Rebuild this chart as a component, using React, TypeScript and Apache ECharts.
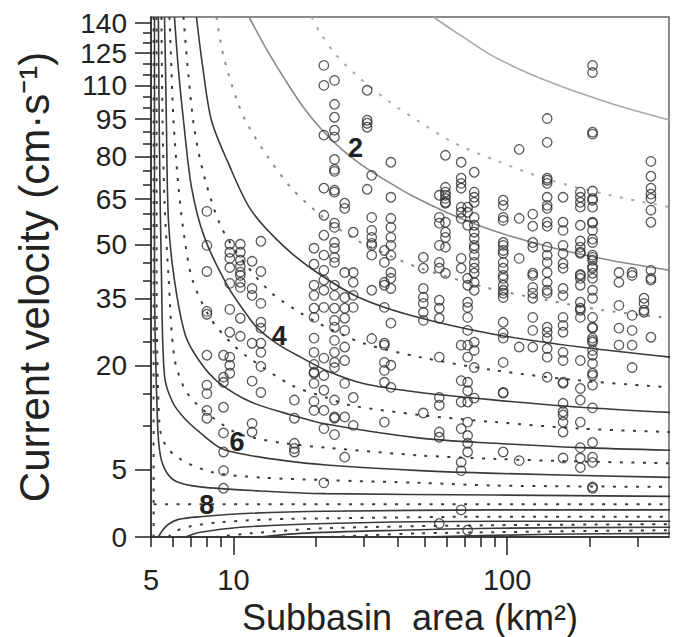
import React, { useEffect, useRef } from "react";
import * as echarts from "echarts";

// ---------------- Observations: subbasin area (km²) and current velocities (cm/s) ----------------
const subbasinAreas = [8.0, 9.2, 9.7, 10.6, 11.7, 12.6, 16.7, 19.7, 21.4, 23.4, 25.5, 27.4, 30.8, 32.0, 35.6, 37.6, 49.4, 56.5, 59.5, 67.9, 71.7, 75.8, 96.7, 110.6, 124, 140, 160, 185, 205, 256, 286, 316, 335];
const velocityByArea = [
  [60.9, 49.7, 42.5, 31.8, 31.1, 22.1, 16.5, 15.0, 12.4, 11.2],
  [22.1, 17.9, 17.0, 12.9, 9.2, 7.0, 4.9, 3.6],
  [50.0, 47.8, 46.1, 43.6, 39.2, 32.3, 27.0, 21.7, 20.0, 18.6],
  [50.0, 47.8, 45.6, 43.9, 42.3, 41.4, 39.5, 38.1, 30.1, 26.1],
  [45.3, 37.8, 35.9, 24.6, 17.2, 10.4, 9.3],
  [51.0, 42.5, 33.8, 29.2, 27.9, 24.6, 22.7, 19.8, 15.2],
  [14.0, 11.2, 8.0, 7.4, 7.0],
  [48.9, 44.5, 38.7, 35.9, 32.6, 30.3, 25.7, 22.7, 20.2, 18.8, 18.6, 16.8, 13.8, 12.4],
  [119.3, 110.1, 88.5, 68.8, 59.6, 53.0, 47.0, 42.8, 40.1, 37.3, 32.8, 21.5, 18.2, 15.6, 12.4, 9.7, 4.0],
  [112.4, 101.6, 95.8, 90.5, 87.7, 78.9, 75.4, 74.7, 68.1, 67.4, 57.0, 55.6, 50.6, 48.9, 46.4, 45.0, 38.7, 35.9, 32.6, 29.6, 28.1, 25.2, 22.7, 20.6, 19.6, 14.0, 11.4, 11.2, 9.0],
  [63.6, 61.9, 42.2, 35.3, 32.6, 30.1, 27.4, 23.8, 21.0, 16.8, 11.4, 6.4],
  [54.0, 42.2, 39.5, 35.9, 32.8, 14.4, 10.1],
  [107.9, 94.5, 93.3, 91.7, 68.4],
  [73.3, 58.9, 54.6, 52.3, 50.3, 49.7, 47.0, 37.3, 25.6],
  [48.3, 45.0, 39.5, 38.7, 32.8, 24.6, 24.2, 20.6, 19.1, 17.0, 10.6],
  [77.9, 65.6, 58.6, 55.6, 52.3, 49.7, 47.0, 42.2, 40.6, 37.8, 29.0, 20.0, 16.1],
  [46.4, 43.4, 37.8, 35.4, 33.8, 31.6, 29.6, 12.0],
  [66.3, 58.9, 57.0, 49.7, 45.0, 43.4, 34.6, 32.6, 30.1, 21.7, 14.4, 13.2, 9.3, 8.7, 1.0],
  [80.4, 69.1, 67.4, 66.3, 65.2, 63.9, 63.6, 57.3, 54.0, 52.3, 49.2, 42.0],
  [77.9, 72.3, 70.5, 68.8, 62.3, 60.6, 58.6, 46.1, 43.4, 24.2, 17.3, 13.7, 9.7, 5.8, 4.9, 2.0],
  [62.3, 60.6, 56.3, 40.6, 38.7, 34.1, 32.8, 30.3, 27.4, 24.2, 21.7, 17.0, 15.5, 13.7, 10.6, 8.9, 8.0, 7.0, 0.5],
  [74.4, 67.4, 65.6, 63.9, 58.9, 56.3, 54.0, 52.0, 49.7, 48.9, 47.0, 45.0, 43.4, 42.0, 39.5, 37.3, 24.8, 23.1, 19.6, 14.3],
  [64.6, 62.9, 58.9, 57.9, 50.6, 49.7, 48.3, 47.5, 45.0, 43.4, 41.4, 40.6, 38.7, 37.3, 36.5, 35.3, 29.2, 26.8, 25.7, 20.6, 15.2, 15.1, 7.0],
  [82.8, 58.6, 46.1, 23.8, 6.0],
  [60.0, 56.0, 50.6, 49.2, 42.0, 41.4, 38.1, 36.5, 35.1, 30.3, 27.4, 23.8],
  [95.2, 85.6, 72.3, 71.6, 70.5, 65.6, 62.9, 61.9, 57.3, 56.0, 49.2, 47.0, 45.0, 42.2, 39.5, 37.3, 36.5, 28.1, 27.0, 25.7, 23.5, 21.7, 17.9],
  [65.6, 57.3, 54.6, 49.7, 47.5, 44.7, 43.4, 37.8, 35.9, 30.3, 28.5, 27.0, 22.7, 21.0, 17.0, 16.8, 13.5, 12.2, 11.7, 10.6, 9.3, 6.3],
  [67.4, 65.6, 63.9, 62.3, 56.3, 51.1, 49.2, 47.8, 47.5, 41.7, 41.4, 40.6, 38.7, 34.1, 32.6, 32.1, 30.3, 21.0, 15.9, 14.0, 10.6, 7.5, 6.3, 5.2],
  [119.3, 116.0, 89.7, 88.9, 67.8, 65.2, 64.6, 62.3, 57.3, 57.0, 54.6, 51.7, 50.6, 47.0, 46.4, 45.6, 43.9, 43.4, 42.0, 40.6, 37.3, 35.1, 30.3, 28.1, 27.9, 25.7, 25.2, 24.8, 23.1, 22.1, 20.4, 18.6, 18.2, 16.5, 12.8, 8.1, 6.4, 5.8, 3.7, 3.6],
  [42.2, 39.5, 33.3, 27.9, 24.2],
  [42.2, 41.4, 30.8, 27.4, 24.2, 19.6],
  [35.1, 33.8, 32.1, 31.6],
  [78.2, 73.0, 68.8, 66.7, 65.2, 61.3, 57.3, 42.8, 40.6, 40.1, 25.9],
];

// ---------------- Contour lines as [area, velocity] ----------------
const contour1 = [[53.7, 143], [67.4, 133.9], [90.4, 123], [144, 111.5], [238, 102.1], [394, 94.5]];
const contour15 = [[19.3, 143], [20.8, 134.9], [23.6, 124.4], [27.4, 116.1], [36.5, 103.4], [48.1, 93.7], [63.5, 85.6], [90.4, 78.6], [144, 71.6], [238, 66.3], [394, 62.3]];
const contour2 = [[11.4, 143], [13.4, 125.4], [15.5, 112.4], [18.0, 100.3], [20.8, 91.3], [24.2, 84.0], [27.9, 78.6], [31.9, 74.7], [36.5, 71.2], [44.6, 66.3], [63.5, 59.6], [90.4, 54.3], [144, 49.2], [238, 45.6], [394, 42.8]];
const contour25 = [[8.67, 143], [9.19, 123.9], [10.3, 103.4], [11.3, 92.5], [13.4, 79.6], [16.3, 68.8], [20.4, 60.3], [27.0, 52.3], [35.6, 47.5], [48.1, 43.4], [86.7, 37.8], [140, 34.6], [224, 32.1], [394, 30.1]];
const contour3 = [[7.33, 143], [7.71, 119.3], [8.31, 94.5], [9.59, 77.5], [11.6, 61.3], [15.4, 49.2], [20.4, 42.0], [28.6, 35.4], [44.6, 30.8], [90.4, 26.5], [185, 23.8], [394, 21.7]];
const contour35 = [[6.57, 143], [6.85, 114.7], [7.21, 90.5], [7.84, 72.6], [9.04, 55.6], [11.0, 44.8], [13.8, 36.5], [17.7, 31.3], [20.4, 29.0], [29.8, 24.6], [48.1, 21.7], [90.4, 19.1], [185, 17.3], [394, 16.1]];
const contour4 = [[6.09, 143], [6.30, 117.0], [6.57, 94.5], [7.03, 69.1], [7.84, 52.3], [9.59, 38.1], [11.6, 29.6], [12.7, 27.0], [14.7, 24.2], [17.6, 21.7], [21.8, 19.1], [29.8, 16.8], [48.1, 15.2], [90.4, 14.0], [185, 12.9], [394, 12.1]];
const contour45 = [[5.84, 143], [5.94, 117.0], [6.04, 94.5], [6.30, 69.1], [6.62, 52.3], [7.09, 40.1], [8.24, 30.1], [9.75, 24.8], [11.3, 21.7], [16.3, 16.5], [21.8, 14.4], [26.7, 13.2], [48.1, 11.7], [90.4, 10.6], [185, 9.7], [394, 9.3]];
const contour5 = [[5.60, 143], [5.65, 117.0], [5.69, 94.5], [5.79, 57.9], [6.09, 40.1], [6.68, 26.3], [7.58, 20.6], [8.82, 17.0], [11.6, 13.7], [16.3, 11.7], [21.8, 10.3], [48.1, 8.6], [90.4, 8.0], [185, 7.5], [394, 7.2]];
const contour55 = [[5.46, 143], [5.51, 94.5], [5.60, 64.6], [5.79, 41.4], [6.09, 21.5], [6.68, 15.6], [7.64, 12.7], [10.1, 9.3], [12.0, 8.6], [15.4, 8.0], [21.8, 7.5], [48.1, 6.6], [90.4, 6.2], [185, 5.9], [394, 5.7]];
const contour6 = [[5.32, 143], [5.37, 82.4], [5.46, 41.4], [5.60, 18.2], [5.99, 13.7], [6.62, 11.2], [7.58, 9.2], [9.04, 7.4], [11.5, 6.6], [15.4, 6.0], [21.8, 5.5], [48.1, 4.9], [90.4, 4.7], [394, 4.4]];
const contour65 = [[5.24, 143], [5.24, 41.4], [5.37, 10.1], [5.65, 7.8], [6.30, 6.3], [8.31, 4.8], [12.5, 4.4], [21.8, 4.2], [48.1, 4.0], [90.4, 3.8], [394, 3.7]];
const contour7 = [[5.15, 143], [5.15, 41.4], [5.28, 10.7], [5.41, 6.6], [5.69, 4.8], [6.19, 4.1], [7.58, 3.7], [12.5, 3.4], [21.8, 3.2], [90.4, 3.1], [394, 3.0]];
const contour75v = [[5.11, 143], [5.11, 0]];
const contour75h = [[5.11, 2.42], [394, 2.42]];
const contour8 = [[5.32, 0], [5.51, 0.5], [5.79, 0.94], [6.30, 1.3], [7.58, 1.5], [11.5, 1.75], [21.8, 1.9], [90.4, 2.0], [394, 2.0]];
const contour85 = [[5.79, 0], [6.14, 0.42], [6.97, 0.79], [8.82, 1.08], [13.6, 1.3], [21.8, 1.38], [90.4, 1.5], [394, 1.5]];
const contour9 = [[6.68, 0], [7.58, 0.35], [10.6, 0.72], [21.8, 1.0], [90.4, 1.16], [394, 1.16]];
const contour95 = [[8.60, 0], [11.5, 0.27], [21.8, 0.65], [90.4, 0.87], [394, 0.94]];
const contour10 = [[12.5, 0], [17.6, 0.27], [40.7, 0.5], [90.4, 0.65], [394, 0.72]];
const contour105 = [[22.6, 0], [48.1, 0.27], [394, 0.5]];
const contour11 = [[48.1, 0], [144, 0.2], [394, 0.27]];

const contourLevels = [1, 1.5, 2, 2.5, 3, 3.5, 4, 4.5, 5, 5.5, 6, 6.5, 7, 7.5, 7.5, 8, 8.5, 9, 9.5, 10, 10.5, 11];
const contourPaths = [contour1, contour15, contour2, contour25, contour3, contour35, contour4, contour45, contour5, contour55, contour6, contour65, contour7, contour75v, contour75h, contour8, contour85, contour9, contour95, contour10, contour105, contour11];

// contour labels
const contourLabelTexts = ["2", "4", "6", "8"];
const contourLabelAreas = [27.9, 14.7, 10.3, 8.0];
const contourLabelVelocities = [83.2, 26.1, 8.1, 2.34];

// ---------------- Axis ticks ----------------
const yTickLabels = [0, 5, 20, 35, 50, 65, 80, 95, 110, 125, 140];
const yMinorTicks = [10, 15, 25, 30, 40, 45, 55, 60, 70, 75, 85, 90, 100, 105, 115, 120, 130, 135];
const xTickLabels = [5, 10, 100];
const xMajorTicks = [10, 100];
const xMinorTicks = [5, 6, 7, 8, 9, 20, 30, 40, 50, 60, 70, 80, 90, 200, 300];
const X_MIN = 5;
const X_MAX = 390;
const Y_MAX = 143;

// velocity axis calibration (velocity -> position along the axis)
const VEL_KNOTS = [0, 5, 10, 15, 20, 25, 30, 35, 50, 65, 80, 95, 110, 125, 140];
const VEL_POS = [0, 67.7, 111, 143.4, 171.7, 195.7, 218.4, 238.4, 292.7, 338, 380.7, 418, 451.4, 484, 514];

function velScale(v: number): number {
  if (v <= 0) return 0;
  for (let i = 0; i < VEL_KNOTS.length - 1; i++) {
    if (v <= VEL_KNOTS[i + 1]) {
      const f = (v - VEL_KNOTS[i]) / (VEL_KNOTS[i + 1] - VEL_KNOTS[i]);
      return VEL_POS[i] + f * (VEL_POS[i + 1] - VEL_POS[i]);
    }
  }
  const n = VEL_KNOTS.length - 1;
  const slope = (VEL_POS[n] - VEL_POS[n - 1]) / (VEL_KNOTS[n] - VEL_KNOTS[n - 1]);
  return VEL_POS[n] + (v - VEL_KNOTS[n]) * slope;
}
const lx = (a: number) => Math.log10(a);

const FONT = "'Liberation Sans', Arial, Helvetica, sans-serif";
const AXIS_COLOR = "#222";

function contourStyle(level: number) {
  const dotted = level % 1 !== 0;
  const color = level < 2 ? "#a9a9a9" : level < 3 ? "#8a8a8a" : "#3a3a3a";
  return {
    color,
    width: dotted ? 2 : 1.6,
    type: dotted ? [3, 8.5] : "solid",
  };
}

export default function App() {
  const ref = useRef<HTMLDivElement>(null);

  useEffect(() => {
    if (!ref.current) return;
    const chart = echarts.init(ref.current, undefined, { renderer: "svg" });

    const contourSeries = contourPaths.map((pts, i) => ({
      type: "line",
      data: pts.map(([a, v]) => [lx(a), velScale(v)]),
      symbol: "none",
      showSymbol: false,
      smooth: contourLevels[i] === 7.5 ? false : 0.3,
      lineStyle: contourStyle(contourLevels[i]),
      silent: true,
      z: 2,
      clip: true,
    }));

    const points: number[][] = [];
    subbasinAreas.forEach((a, i) => {
      velocityByArea[i].forEach((v) => points.push([lx(a), velScale(v)]));
    });

    const labelData = contourLabelTexts.map((t, i) => ({
      name: t,
      value: [lx(contourLabelAreas[i]), velScale(contourLabelVelocities[i])],
    }));

    const yLabelFor = (val: number) => {
      const found = yTickLabels.find((l) => Math.abs(velScale(l) - val) < 1e-6);
      return found === undefined ? "" : String(found);
    };

    const option: any = {
      animation: false,
      backgroundColor: "#ffffff",
      textStyle: { fontFamily: FONT },
      grid: {
        left: 151,
        right: 5,
        top: 17,
        bottom: 100,
        show: true,
        borderColor: "#666",
        borderWidth: 1.5,
        backgroundColor: "transparent",
        containLabel: false,
        outerBoundsMode: "none",
      },
      xAxis: [
        {
          type: "value",
          min: lx(X_MIN),
          max: lx(X_MAX),
          position: "bottom",
          axisLine: { show: true, onZero: false, lineStyle: { color: AXIS_COLOR, width: 1.5 } },
          axisTick: { show: true, customValues: xMajorTicks.map(lx), length: 18, lineStyle: { color: AXIS_COLOR, width: 1.5 } },
          axisLabel: {
            customValues: xTickLabels.map(lx),
            formatter: (v: number) => String(Math.round(Math.pow(10, v))),
            fontSize: 29,
            color: AXIS_COLOR,
            margin: 28,
            fontFamily: FONT,
          },
          splitLine: { show: false },
          name: "Subbasin\u00a0 area (km²)",
          nameLocation: "middle",
          nameGap: 47,
          nameTextStyle: { fontSize: 36, color: AXIS_COLOR, fontFamily: FONT, lineHeight: 38 },
        },
        {
          type: "value",
          min: lx(X_MIN),
          max: lx(X_MAX),
          position: "bottom",
          offset: 0,
          axisLine: { show: false, onZero: false },
          axisTick: { show: true, customValues: xMinorTicks.map(lx), length: 10, lineStyle: { color: AXIS_COLOR, width: 1.5 } },
          axisLabel: { show: false },
          splitLine: { show: false },
        },
      ],
      yAxis: [
        {
          type: "value",
          min: 0,
          max: velScale(Y_MAX),
          position: "left",
          axisLine: { show: true, onZero: false, lineStyle: { color: AXIS_COLOR, width: 1.5 } },
          axisTick: { show: true, customValues: yTickLabels.map(velScale), length: 16, lineStyle: { color: AXIS_COLOR, width: 1.5 } },
          axisLabel: {
            customValues: yTickLabels.map(velScale),
            formatter: yLabelFor,
            fontSize: 28,
            color: AXIS_COLOR,
            margin: 24,
            fontFamily: FONT,
          },
          splitLine: { show: false },
          name: "Current velocity (cm·s⁻¹)",
          nameLocation: "middle",
          nameRotate: 90,
          nameGap: 96,
          nameTextStyle: { fontSize: 42, color: AXIS_COLOR, fontFamily: FONT },
        },
        {
          type: "value",
          min: 0,
          max: velScale(Y_MAX),
          position: "left",
          offset: 0,
          axisLine: { show: false, onZero: false },
          axisTick: { show: true, customValues: yMinorTicks.map(velScale), length: 8, lineStyle: { color: AXIS_COLOR, width: 1.5 } },
          axisLabel: { show: false },
          splitLine: { show: false },
        },
      ],
      series: [
        ...contourSeries,
        {
          type: "scatter",
          data: points,
          symbol: "circle",
          symbolSize: 9.5,
          itemStyle: { color: "rgba(255,255,255,0)", borderColor: "#2e2e2e", borderWidth: 1.3 },
          z: 3,
          silent: true,
        },
        {
          type: "scatter",
          data: labelData,
          symbol: "circle",
          symbolSize: 0.01,
          itemStyle: { color: "#222", opacity: 1 },
          label: {
            show: true,
            position: "inside",
            formatter: "{b}",
            fontSize: 27,
            fontWeight: "bold",
            color: "#222",
            opacity: 1,
            textBorderWidth: 0,
            fontFamily: FONT,
          },
          z: 4,
          silent: true,
        },
      ],
    };

    chart.setOption(option);
    return () => chart.dispose();
  }, []);

  return (
    <div
      ref={ref}
      style={{ position: "absolute", left: 0, top: 0, width: 674, height: 637, background: "#fff" }}
    />
  );
}
